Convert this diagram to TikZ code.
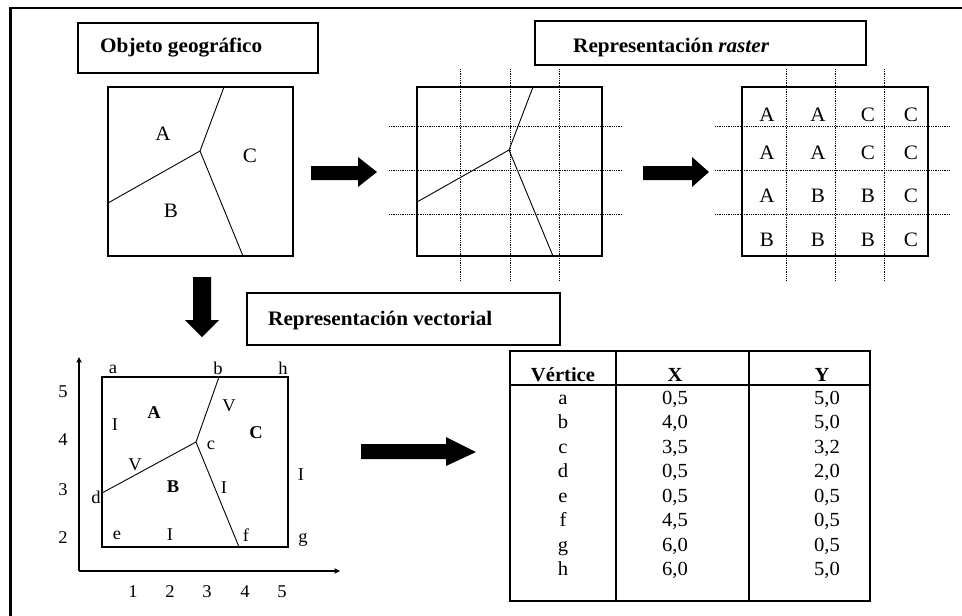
\documentclass[tikz,border=0pt]{standalone}
\usepackage{fontspec}
\setmainfont{Liberation Serif}
\usetikzlibrary{arrows.meta}
\newcommand\hs[1]{\scalebox{1.03}[1]{#1}}
\begin{document}
\begin{tikzpicture}[x=1pt,y=-1pt,
  frame/.style={line width=2.6pt},
  boxst/.style={line width=1.7pt},
  sqst/.style={line width=1.8pt},
  thin/.style={line width=0.9pt},
  gridst/.style={line width=0.7pt, dash pattern=on 0.9pt off 0.9pt},
  ttl/.style={inner sep=0pt, anchor=base west, font=\fontsize{20.6}{21}\selectfont\bfseries},
  big/.style={inner sep=0pt, font=\fontsize{20.5}{21}\selectfont},
  lbl/.style={inner sep=0pt, font=\fontsize{18}{18}\selectfont},
  blbl/.style={inner sep=0pt, font=\fontsize{18}{18}\selectfont\bfseries},
  tb/.style={inner sep=0pt, anchor=base, font=\fontsize{20}{20}\selectfont},
  tbh/.style={inner sep=0pt, anchor=base, font=\fontsize{20}{20}\selectfont\bfseries},
  blk/.style={fill=black},
  axis/.style={line width=1.1pt, -{Stealth[length=9pt,width=9pt,inset=6pt]}}
]
\useasboundingbox (0,0) rectangle (962,616);
% outer frame
\draw[frame] (10.5,630) -- (10.5,8) -- (975,8);

% titles
\draw[boxst] (78,23) rectangle (318,73);
\node[ttl] (t1) at (100,52) {\hs{Objeto geográfico}};
\draw[boxst] (535,21) rectangle (866,65);
\node[ttl] (t2) at (573,52) {\hs{Representación \textit{raster}}};
\draw[boxst] (247,293) rectangle (560,345);
\node[ttl] (t3) at (268,325) {\hs{Representación vectorial}};

% square 1
\coordinate (j1) at (200,151);
\coordinate (u1) at (224,87);
\coordinate (l1) at (108,203);
\coordinate (d1) at (243,256);
\draw[thin] (u1) -- (j1) -- (l1) (j1) -- (d1);
\draw[sqst] (108,87) rectangle (293,256);
\node[big] (sA) at (163,134) {\hs{A}};
\node[big] (sC) at (250,156) {\hs{C}};
\node[big] (sB) at (171,211) {\hs{B}};

% square 2 with grid
\foreach \x in {460,510,559} \draw[gridst] (\x,69) -- (\x,281);
\foreach \y in {126,170,214} \draw[gridst] (389,\y) -- (623,\y);
\coordinate (j2) at (509,150);
\coordinate (u2) at (533,87);
\coordinate (l2) at (417,202);
\coordinate (d2) at (553,256);
\draw[thin] (u2) -- (j2) -- (l2) (j2) -- (d2);
\draw[sqst] (417,87) rectangle (602,256);

% raster square
\foreach \x in {786,835,884} \draw[gridst] (\x,69) -- (\x,281);
\foreach \y in {126,170,214} \draw[gridst] (715,\y) -- (950,\y);
\draw[sqst] (742,87) rectangle (928,256);
\foreach \r/\yy in {1/115,2/153,3/196,4/240}{
  \foreach \c/\xx in {1/767,2/818,3/868,4/911}{
    \coordinate (r\r c\c) at (\xx,\yy);
  }
}
\foreach \r/\la/\lb/\lc/\ld in {1/A/A/C/C,2/A/A/C/C,3/A/B/B/C,4/B/B/B/C}{
  \node[big] at (r\r c1) {\hs{\la}};
  \node[big] at (r\r c2) {\hs{\lb}};
  \node[big] at (r\r c3) {\hs{\lc}};
  \node[big] at (r\r c4) {\hs{\ld}};
}

% block arrows
\fill[blk] (311,166) -- (358,166) -- (358,157) -- (377,172) -- (358,187) -- (358,180) -- (311,180) -- cycle;
\fill[blk] (643,166) -- (692,166) -- (692,157) -- (709,172) -- (692,187) -- (692,180) -- (643,180) -- cycle;
\fill[blk] (193,277) -- (211,277) -- (211,320) -- (219,320) -- (202,337) -- (185,320) -- (193,320) -- cycle;
\fill[blk] (361,444) -- (446,444) -- (446,437) -- (476,452) -- (446,466) -- (446,459) -- (361,459) -- cycle;

% vector representation
\coordinate (o) at (79,571);
\coordinate (ytip) at (79,357);
\coordinate (xtip) at (340,571);
\draw[axis] (o) -- (ytip);
\draw[axis] (o) -- (xtip);
\coordinate (vc) at (196,442);
\coordinate (vb) at (219,377);
\coordinate (vd) at (102,493);
\coordinate (vf) at (239,547);
\draw[thin] (vb) -- (vc) -- (vd) (vc) -- (vf);
\draw[sqst] (102,377) rectangle (288,547);

\foreach \t/\yy in {5/392,4/440,3/490,2/538} \node[lbl] at (63,\yy) {\hs{\t}};
\foreach \t/\xx in {1/133,2/170,3/207,4/245,5/282} \node[lbl] at (\xx,592) {\hs{\t}};

\node[lbl] (la) at (113,369) {\hs{a}};
\node[lbl] (lb) at (218,368) {\hs{b}};
\node[lbl] (lh) at (283,368) {\hs{h}};
\node[lbl] (lc) at (211,445) {\hs{c}};
\node[lbl] (ld) at (96,497) {\hs{d}};
\node[lbl] (le) at (117,535) {\hs{e}};
\node[lbl] (lf) at (246,535) {\hs{f}};
\node[lbl] (lg) at (303,540) {\hs{g}};
\node[lbl] (i1) at (115,425) {\hs{I}};
\node[lbl] (i2) at (224,488) {\hs{I}};
\node[lbl] (i3) at (301,475) {\hs{I}};
\node[lbl] (i4) at (170,535) {\hs{I}};
\node[lbl] (v1) at (229,406) {\hs{V}};
\node[lbl] (v2) at (135,465) {\hs{V}};
\node[blbl] (bA) at (154,413) {\hs{A}};
\node[blbl] (bB) at (173,487) {\hs{B}};
\node[blbl] (bC) at (256,433) {\hs{C}};

% table
\draw[sqst] (510,351) rectangle (870,601);
\draw[sqst] (616,351) -- (616,601) (749,351) -- (749,601);
\draw[sqst] (509,385) -- (870,385);
\node[tbh] (hv) at (563,381) {\hs{Vértice}};
\node[tbh] (hx) at (675,381) {\hs{X}};
\node[tbh] (hy) at (822,381) {\hs{Y}};
\foreach \v/\xv/\yv/\yy in {a/{0,5}/{5,0}/404, b/{4,0}/{5,0}/428.5, c/{3,5}/{3,2}/453, d/{0,5}/{2,0}/477.5, e/{0,5}/{0,5}/502, f/{4,5}/{0,5}/526.5, g/{6,0}/{0,5}/551, h/{6,0}/{5,0}/575.5}{
  \node[tb] at (563,\yy) {\hs{\v}};
  \node[tb] at (675,\yy) {\hs{\xv}};
  \node[tb] at (827,\yy) {\hs{\yv}};
}
\end{tikzpicture}
\end{document}
